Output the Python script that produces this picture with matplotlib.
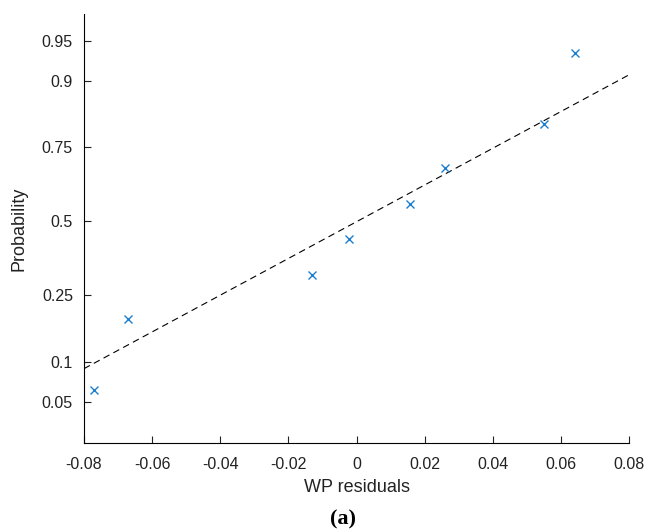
import numpy as np
import matplotlib
matplotlib.use("Agg")
import matplotlib.pyplot as plt
from statistics import NormalDist

# residuals (sorted) for the normal probability plot
residuals = [-0.0771, -0.0671, -0.0131, -0.0022, 0.0157, 0.0260, 0.0550, 0.0642]
prob_ticks = [0.05, 0.1, 0.25, 0.5, 0.75, 0.9, 0.95]
prob_labels = ["0.05", "0.1", "0.25", "0.5", "0.75", "0.9", "0.95"]
x_ticks = [-0.08, -0.06, -0.04, -0.02, 0, 0.02, 0.04, 0.06, 0.08]
x_labels = ["-0.08", "-0.06", "-0.04", "-0.02", "0", "0.02", "0.04", "0.06", "0.08"]

nd = NormalDist()
def probit(p):
    return nd.inv_cdf(p)

x = np.sort(np.array(residuals))
n = len(x)
pp = (np.arange(1, n + 1) - 0.5) / n
z = np.array([probit(p) for p in pp])

# reference line through the 25th and 75th percentiles
q1 = np.interp(25, 100 * pp, x)
q3 = np.interp(75, 100 * pp, x)
z1, z3 = probit(0.25), probit(0.75)
slope = (z3 - z1) / (q3 - q1)
xl = np.array([-0.08, 0.08])
zl = z1 + slope * (xl - q1)

plt.rcParams['font.family'] = ['Liberation Sans', 'DejaVu Sans']

fig = plt.figure(figsize=(6.48, 5.32), dpi=100)
ax = fig.add_axes([84 / 648, 1 - 443 / 532, 545 / 648, 429 / 532])

ax.plot(xl, zl, linestyle=(0, (6, 4)), color='black', linewidth=0.8)
ax.plot(x, z, linestyle='none', marker='x', color='#1a7fd0', markersize=6, markeredgewidth=1.0)

ax.set_xlim(-0.08, 0.08)
ax.set_ylim(-2.02, 1.89)
ax.set_xticks(x_ticks)
ax.set_xticklabels(x_labels)
ax.set_yticks([probit(p) for p in prob_ticks])
ax.set_yticklabels(prob_labels)
ax.tick_params(direction='in', length=5, width=0.8, labelsize=11.5, pad=8, colors='#222222')
ax.tick_params(axis='x', pad=10)
for s in ['top', 'right']:
    ax.spines[s].set_visible(False)
for s in ['left', 'bottom']:
    ax.spines[s].set_linewidth(0.8)

ax.set_xlabel("WP residuals", fontsize=13, labelpad=5, color='#222222')
ax.set_ylabel("Probability", fontsize=13, labelpad=10, color='#222222')

fig.text(0.53, 1 - 519 / 532, "(a)", ha='center', va='center', fontsize=16,
         fontweight='bold', family=['Liberation Serif', 'DejaVu Serif'])

fig.savefig("out.png", dpi=100)
